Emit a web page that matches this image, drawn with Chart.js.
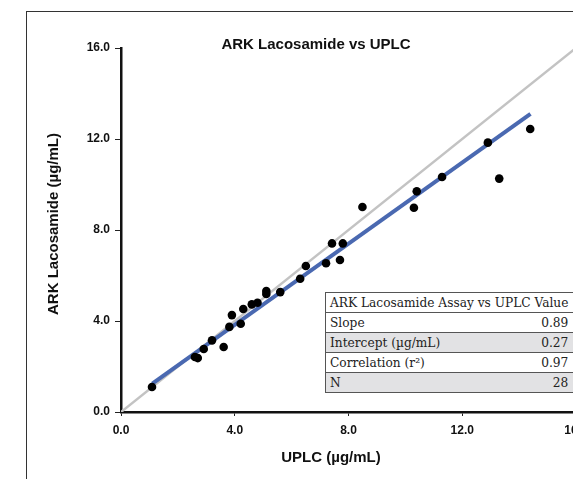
<!DOCTYPE html>
<html lang="en">
<head>
    <meta charset="UTF-8">
    <meta name="viewport" content="width=device-width">
    <script src="https://cdn.jsdelivr.net/npm/chart.js@4.4.0/dist/chart.umd.min.js"></script>
    <title>ARK Lacosamide vs UPLC</title>

    <style>
        body {
            margin: 0;
            background: #ffffff;
            overflow: hidden;
        }

        .frame {
            position: absolute;
            left: 26px;
            top: 11px;
            width: 700px;
            height: 600px;
            border-left: 1px solid #333;
            border-top: 1px solid #333;
        }

        .chart-container {
            position: absolute;
            left: 0;
            top: 0;
            width: 640px;
            height: 479px;
        }

        #stats {
            position: absolute;
            left: 325px;
            top: 292px;
            width: 252px;
            border-collapse: collapse;
            font-family: "DejaVu Serif", serif;
            font-size: 12.2px;
            color: #222;
            background: #fff;
        }

        #stats tr {
            height: 20px;
        }

        #stats td {
            padding: 0 9px 0 4px;
            border-top: 1px solid #555;
            border-bottom: 1px solid #555;
            white-space: nowrap;
        }

        #stats td:first-child {
            border-left: 1px solid #555;
        }

        #stats td.val {
            text-align: right;
        }

        #stats tr.shade td {
            background: #e2e2e4;
        }
    </style>
</head>
<body>
    <div class="frame"></div>

    <div class="chart-container">
        <canvas id="myChart" width="640" height="479"></canvas>
    </div>

    <table id="stats"></table>

    <script>
        // values
        const uplcValues = [1.09, 2.60, 2.70, 2.91, 3.20, 3.61, 3.81, 3.90, 4.21, 4.30,
                            4.60, 4.80, 5.11, 5.11, 5.60, 6.30, 6.50, 7.21, 7.42, 7.70,
                            7.80, 8.49, 10.30, 10.40, 11.29, 12.90, 13.30, 14.39];
        const arkValues  = [1.10, 2.42, 2.37, 2.77, 3.15, 2.86, 3.74, 4.26, 3.88, 4.53,
                            4.73, 4.80, 5.32, 5.19, 5.27, 5.86, 6.42, 6.54, 7.41, 6.68,
                            7.41, 9.01, 8.98, 9.70, 10.33, 11.84, 10.26, 12.44];

        const fitLineX = [1.1, 14.4];
        const fitLineY = [1.25, 13.1];
        const identityX = [0, 16];
        const identityY = [0, 16];

        const tickValues = [0, 4, 8, 12, 16];

        const chartTitle = 'ARK Lacosamide vs UPLC';
        const xTitle = 'UPLC (µg/mL)';
        const yTitle = 'ARK Lacosamide (µg/mL)';

        const tableTitle = 'ARK Lacosamide Assay vs UPLC Value';
        const statNames  = ['Slope', 'Intercept (µg/mL)', 'Correlation (r²)', 'N'];
        const statValues = ['0.89', '0.27', '0.97', '28'];


        // stats table
        const table = document.getElementById('stats');
        let html = '<tr><td colspan="2">' + tableTitle + '</td></tr>';
        statNames.forEach(function(name, i) {
            html += '<tr class="' + (i % 2 === 1 ? 'shade' : '') + '"><td>' + name +
                    '</td><td class="val">' + statValues[i] + '</td></tr>';
        });
        table.innerHTML = html;


        const toPoints = (xs, ys) => xs.map((x, i) => ({x: x, y: ys[i]}));

        const data = {
            datasets: [{
                    label: 'Samples',
                    data: toPoints(uplcValues, arkValues),
                    backgroundColor: '#000000',
                    borderWidth: 0,
                    pointRadius: 4.3,
                    order: 0
                },
                {
                    label: 'Fit',
                    data: toPoints(fitLineX, fitLineY),
                    showLine: true,
                    borderColor: '#4a69b1',
                    borderWidth: 4,
                    pointRadius: 0,
                    order: 1
                },
                {
                    label: 'Identity',
                    data: toPoints(identityX, identityY),
                    showLine: true,
                    borderColor: '#c3c3c3',
                    borderWidth: 2.5,
                    pointRadius: 0,
                    order: 2
                }]
        };

        const tickFont = {
            family: '"Liberation Sans", Arial, sans-serif',
            size: 12,
            weight: 'bold'
        };

        // titles sit where the reference has them, not centred on the plot
        const titlesPlugin = {
            id: 'titles',
            afterDraw(chart) {
                const ctx = chart.ctx;
                ctx.save();
                ctx.fillStyle = '#111';
                ctx.textAlign = 'center';
                ctx.textBaseline = 'middle';
                ctx.font = 'bold 15px "Liberation Sans", Arial, sans-serif';
                ctx.fillText(chartTitle, 316, 45);
                ctx.fillText(xTitle, 331, 458);
                ctx.translate(54, 224);
                ctx.rotate(-Math.PI / 2);
                ctx.fillText(yTitle, 0, 0);
                ctx.restore();
            }
        };

        const options = {
            responsive: false,
            animation: false,
            layout: {
                padding: {
                    top: 48,
                    right: 64,
                    left: 0,
                    bottom: 0
                }
            },
            scales: {
                x: {
                    type: 'linear',
                    min: 0,
                    max: 16,
                    afterFit: function(scale) { scale.height = 67; },
                    afterBuildTicks: function(scale) {
                        scale.ticks = tickValues.map(v => ({value: v}));
                    },
                    grid: {
                        drawOnChartArea: false,
                        drawTicks: true,
                        tickLength: 4,
                        tickColor: '#222',
                        tickWidth: 1
                    },
                    border: {
                        color: '#111',
                        width: 2.5
                    },
                    ticks: {
                        color: '#111',
                        font: tickFont,
                        padding: 7,
                        maxRotation: 0,
                        callback: function(val) { return val.toFixed(1); }
                    }
                },
                y: {
                    type: 'linear',
                    min: 0,
                    max: 16,
                    afterFit: function(scale) { scale.width = 121; },
                    afterBuildTicks: function(scale) {
                        scale.ticks = tickValues.map(v => ({value: v}));
                    },
                    grid: {
                        drawOnChartArea: false,
                        drawTicks: true,
                        tickLength: 6,
                        tickColor: '#222',
                        tickWidth: 1
                    },
                    border: {
                        color: '#111',
                        width: 2.5
                    },
                    ticks: {
                        color: '#111',
                        font: tickFont,
                        padding: 5,
                        callback: function(val) { return val.toFixed(1); }
                    }
                }
            },
            plugins: {
                legend: { display: false },
                tooltip: { enabled: false }
            }
        };

        const config = {
            type: 'scatter',
            data: data,
            options: options,
            plugins: [titlesPlugin]
        };

        var myChart = new Chart(
            document.getElementById('myChart'),
            config
        );
    </script>
</body>
</html>
